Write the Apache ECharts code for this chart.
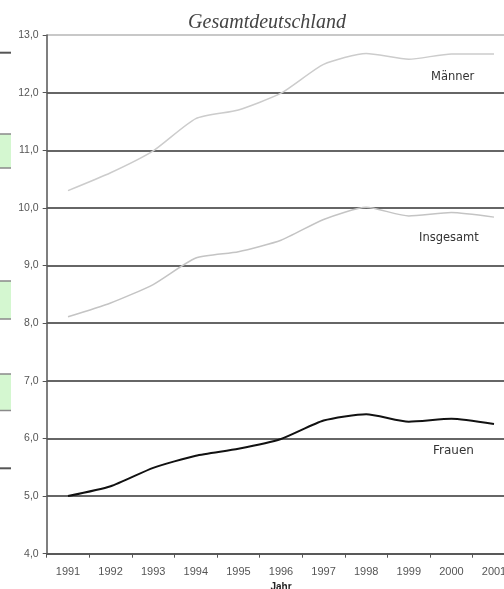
<!DOCTYPE html>
<html>
<head>
<meta charset="utf-8">
<script src="https://cdn.jsdelivr.net/npm/echarts@6/dist/echarts.min.js"></script>
<style>
html,body{margin:0;padding:0;background:#fff;overflow:hidden;}
#chart{width:504px;height:589px;}
</style>
</head>
<body>
<div id="chart"></div>
<script>
const titleText = 'Gesamtdeutschland';
const xAxisName = 'Jahr';
const years = ['1991','1992','1993','1994','1995','1996','1997','1998','1999','2000','2001'];
const maenner = [10.30, 10.61, 10.99, 11.55, 11.70, 11.99, 12.49, 12.68, 12.58, 12.67, 12.67];
const insgesamt = [8.11, 8.35, 8.67, 9.13, 9.24, 9.44, 9.80, 10.01, 9.86, 9.92, 9.84];
const frauen = [5.00, 5.17, 5.49, 5.70, 5.82, 5.99, 6.31, 6.42, 6.29, 6.34, 6.25];
const seriesNames = ['Männer', 'Insgesamt', 'Frauen'];

const chart = echarts.init(document.getElementById('chart'), null, {renderer: 'canvas'});

const greenBox = (y1, y2) => ([
  {type: 'rect', shape: {x: 0, y: y1, width: 11, height: y2 - y1}, style: {fill: '#d4f7d0'}, silent: true},
  {type: 'line', shape: {x1: 0, y1: y1, x2: 11, y2: y1}, style: {stroke: '#8a8a8a', lineWidth: 1.5}, silent: true},
  {type: 'line', shape: {x1: 0, y1: y2, x2: 11, y2: y2}, style: {stroke: '#8a8a8a', lineWidth: 1.5}, silent: true}
]);

const option = {
  backgroundColor: '#ffffff',
  animation: false,
  title: {
    text: titleText,
    left: 262,
    top: 8,
    textAlign: 'center',
    textStyle: {fontFamily: 'Liberation Serif', fontStyle: 'italic', fontWeight: 'normal', fontSize: 20, color: '#444'}
  },
  grid: {left: 46.7, width: 468.6, top: 35, bottom: 35.3, containLabel: false, outerBoundsMode: 'none'},
  xAxis: {
    type: 'category',
    data: years,
    boundaryGap: true,
    name: xAxisName,
    nameLocation: 'middle',
    nameGap: 28,
    nameTextStyle: {fontFamily: 'Liberation Sans', fontWeight: 'bold', fontSize: 10, color: '#222', verticalAlign: 'top'},
    axisLine: {lineStyle: {color: '#555', width: 1.5}},
    axisTick: {show: true, length: 4, lineStyle: {color: '#555', width: 1}},
    axisLabel: {fontFamily: 'Liberation Sans', fontSize: 11, color: '#555', margin: 13, interval: 0, hideOverlap: false},
    splitLine: {show: false}
  },
  yAxis: {
    type: 'value',
    min: 4,
    max: 13,
    interval: 1,
    axisLine: {show: true, lineStyle: {color: '#555', width: 1.5}},
    axisTick: {show: true, length: 4, lineStyle: {color: '#555', width: 1}},
    axisLabel: {
      fontFamily: 'Liberation Sans', fontSize: 10.5, color: '#555', margin: 8,
      formatter: v => v.toFixed(1).replace('.', ',')
    },
    splitLine: {show: true, lineStyle: {color: ['#666','#666','#666','#666','#666','#666','#666','#666','#666','#c8c8c8'], width: 1.8}}
  },
  series: [
    {name: seriesNames[0], type: 'line', data: maenner, symbol: 'none', smooth: 0.2, lineStyle: {color: '#cccccc', width: 1.5}, z: 3},
    {name: seriesNames[1], type: 'line', data: insgesamt, symbol: 'none', smooth: 0.2, lineStyle: {color: '#c4c4c4', width: 1.5}, z: 3},
    {name: seriesNames[2], type: 'line', data: frauen, symbol: 'none', smooth: 0.2, lineStyle: {color: '#111', width: 2}, z: 4}
  ],
  graphic: [
    {type: 'text', left: 431, top: 71, style: {text: seriesNames[0], fontFamily: 'DejaVu Sans', fontSize: 11.5, fill: '#333'}, silent: true},
    {type: 'text', left: 419, top: 232, style: {text: seriesNames[1], fontFamily: 'DejaVu Sans', fontSize: 11.5, fill: '#333'}, silent: true},
    {type: 'text', left: 433, top: 445, style: {text: seriesNames[2], fontFamily: 'DejaVu Sans', fontSize: 12, fill: '#333'}, silent: true},
    {type: 'line', shape: {x1: 0, y1: 52.7, x2: 11, y2: 52.7}, style: {stroke: '#555', lineWidth: 2}, silent: true},
    {type: 'line', shape: {x1: 0, y1: 468.3, x2: 11, y2: 468.3}, style: {stroke: '#555', lineWidth: 2}, silent: true},
    ...greenBox(134, 168),
    ...greenBox(281, 319),
    ...greenBox(374, 410.5)
  ]
};
chart.setOption(option);
</script>
</body>
</html>
